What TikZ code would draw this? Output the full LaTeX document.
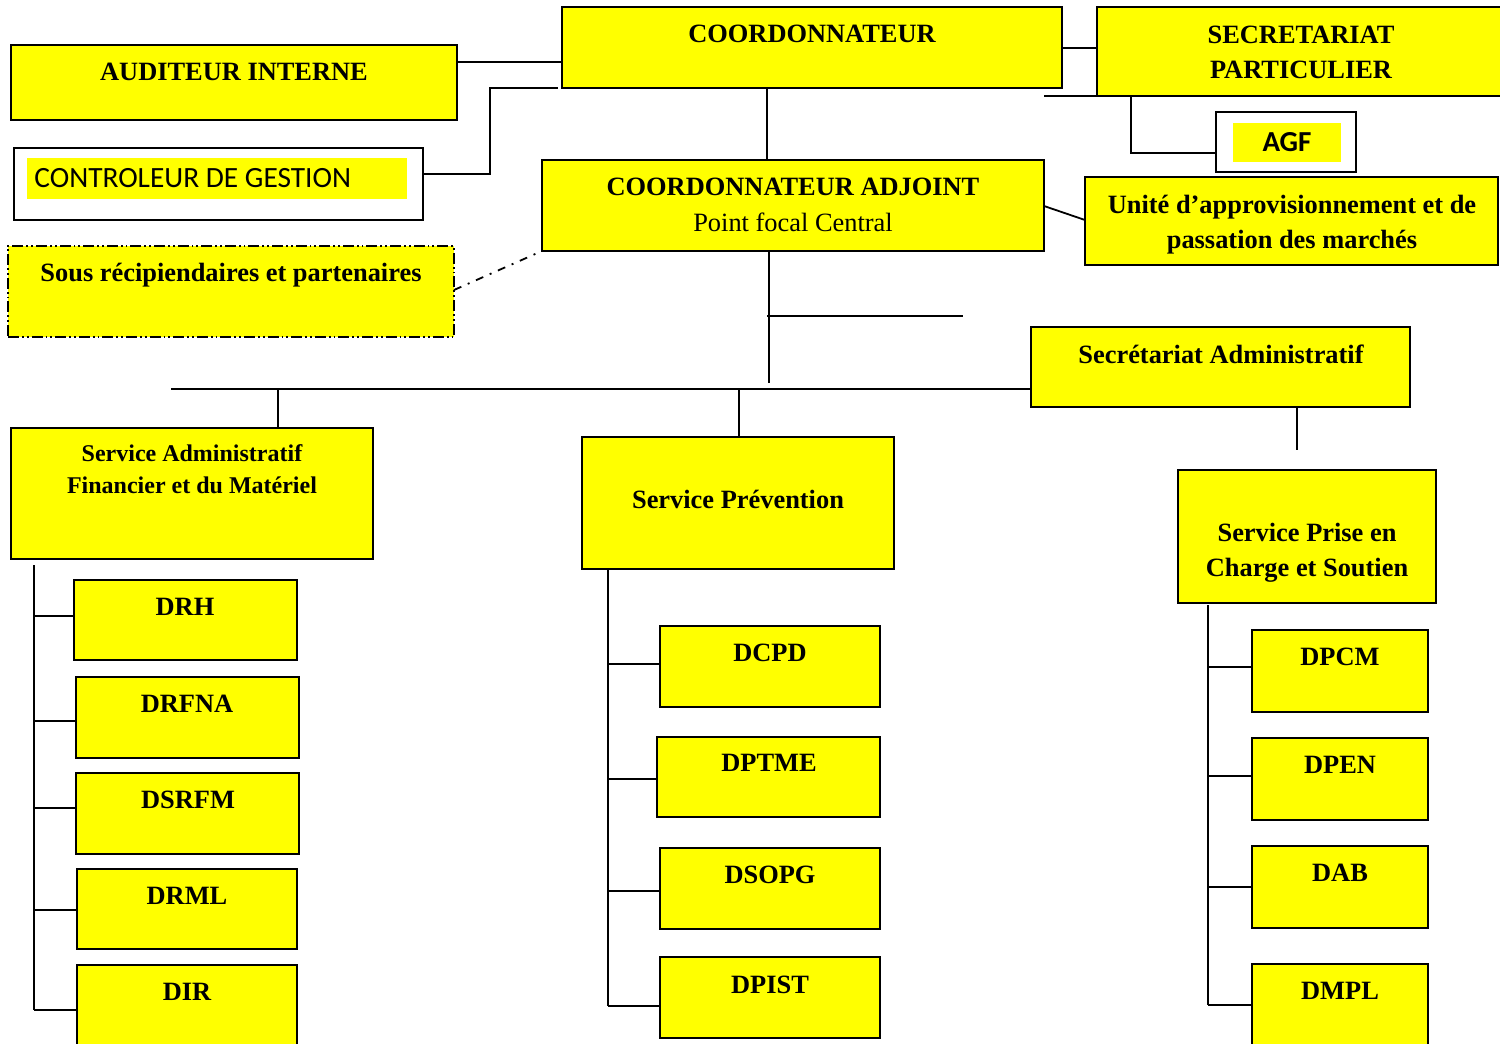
\documentclass[tikz,border=0pt]{standalone}
\usepackage{fontspec}
\setmainfont{Liberation Serif}
\newfontfamily\calib{Carlito}
\usetikzlibrary{fit}
\definecolor{boxyellow}{RGB}{255,255,0}
\tikzset{
  ybox/.style={draw, line width=0.9pt, fill=boxyellow, inner sep=0pt, outer sep=0pt},
  wbox/.style={draw, line width=0.9pt, fill=white, inner sep=0pt, outer sep=0pt},
  hbox/.style={fill=boxyellow, inner sep=0pt, outer sep=0pt},
  ddbox/.style={draw, line width=0.9pt, fill=boxyellow, inner sep=0pt, outer sep=0pt,
    dash pattern=on 5.5pt off 1.5pt on 0.9pt off 1.5pt on 0.9pt off 1.5pt},
  txt/.style={font=\bfseries\fontsize{13.2}{17.5}\selectfont, align=center, inner sep=0pt, text depth=0pt},
  stxt/.style={font=\bfseries\fontsize{12}{16}\selectfont, align=center, inner sep=0pt, text depth=0pt},
  ln/.style={line width=0.9pt},
  dotln/.style={line width=0.9pt, dash pattern=on 4pt off 3.5pt on 1pt off 3.5pt},
}
\newcommand\mkbox[6]{\node[#6, fit={(#2,#3) (#4,#5)}] (#1) {};}
\begin{document}
\begin{tikzpicture}[x=0.5pt,y=-0.5pt]
\clip (0,0) rectangle (1500,1044);
\fill[white] (0,0) rectangle (1500,1044);

% boxes
\mkbox{aud}{11}{45}{457}{120}{ybox}
\mkbox{ctrl}{14}{148}{423}{220}{wbox}
\mkbox{ctrlh}{27}{158}{407}{199}{hbox}
\mkbox{sous}{8}{246}{454}{337}{ddbox}
\mkbox{coord}{562}{7}{1062}{88}{ybox}
\mkbox{sec}{1097}{7}{1530}{96}{ybox}
\mkbox{agf}{1216}{112}{1356}{172}{wbox}
\mkbox{agfh}{1233}{123}{1341}{162}{hbox}
\mkbox{adj}{542}{160}{1044}{251}{ybox}
\mkbox{uni}{1085}{177}{1498}{265}{ybox}
\mkbox{sadm}{1031}{327}{1410}{407}{ybox}
\mkbox{saf}{11}{428}{373}{559}{ybox}
\mkbox{prev}{582}{437}{894}{569}{ybox}
\mkbox{pcs}{1178}{470}{1436}{603}{ybox}
\mkbox{drh}{74}{580}{297}{660}{ybox}
\mkbox{drfna}{76}{677}{299}{758}{ybox}
\mkbox{dsrfm}{76}{773}{299}{854}{ybox}
\mkbox{drml}{77}{869}{297}{949}{ybox}
\mkbox{dir}{77}{965}{297}{1070}{ybox}
\mkbox{dcpd}{660}{626}{880}{707}{ybox}
\mkbox{dptme}{657}{737}{880}{817}{ybox}
\mkbox{dsopg}{660}{848}{880}{929}{ybox}
\mkbox{dpist}{660}{957}{880}{1038}{ybox}
\mkbox{dpcm}{1252}{630}{1428}{712}{ybox}
\mkbox{dpen}{1252}{738}{1428}{820}{ybox}
\mkbox{dab}{1252}{846}{1428}{928}{ybox}
\mkbox{dmpl}{1252}{964}{1428}{1070}{ybox}

% texts
\node[txt] (aud-t) at (234,72) {AUDITEUR INTERNE};
\node[inner sep=0pt, anchor=west, text depth=0pt, font=\calib\fontsize{14.7}{17}\selectfont] (ctrl-t) at (34,178) {CONTROLEUR DE GESTION};
\node[txt] (sous-t) at (231,272) {Sous récipiendaires et partenaires};
\node[txt] (coord-t) at (812,34) {COORDONNATEUR};
\node[txt] (sec-t) at (1301,52) {SECRETARIAT\\PARTICULIER};
\node[inner sep=0pt, font=\calib\bfseries\fontsize{14.5}{17}\selectfont, text depth=0pt] (agf-t) at (1287,142) {AGF};
\node[txt] (adj-t) at (793,187) {COORDONNATEUR ADJOINT};
\node[txt, font=\fontsize{13.2}{17.5}\selectfont] (adj-t2) at (793,222) {Point focal Central};
\node[txt] (uni-t) at (1292,222) {Unité d’approvisionnement et de\\passation des marchés};
\node[txt] (sadm-t) at (1221,354) {Secrétariat Administratif};
\node[stxt] (saf-t) at (192,469) {Service Administratif\\Financier et du Matériel};
\node[txt] (prev-t) at (738,499) {Service Prévention};
\node[txt] (pcs-t) at (1307,550) {Service Prise en\\Charge et Soutien};
\node[txt] (drh-t) at (185,607) {DRH};
\node[txt] (drfna-t) at (187,704) {DRFNA};
\node[txt] (dsrfm-t) at (188,800) {DSRFM};
\node[txt] (drml-t) at (187,896) {DRML};
\node[txt] (dir-t) at (187,992) {DIR};
\node[txt] (dcpd-t) at (770,653) {DCPD};
\node[txt] (dptme-t) at (769,763) {DPTME};
\node[txt] (dsopg-t) at (770,875) {DSOPG};
\node[txt] (dpist-t) at (770,985) {DPIST};
\node[txt] (dpcm-t) at (1340,657) {DPCM};
\node[txt] (dpen-t) at (1340,765) {DPEN};
\node[txt] (dab-t) at (1340,873) {DAB};
\node[txt] (dmpl-t) at (1340,991) {DMPL};

% free ends
\coordinate (ctrlend) at (558,88);
\coordinate (secstub) at (1044,96);
\coordinate (adjstem) at (769,383);
\coordinate (adjside) at (963,316);
\coordinate (mainleft) at (171,389);
\coordinate (sadmstem) at (1297,450);

% connectors
\draw[ln] (aud.east |- 0,62) -- (coord.west |- 0,62);
\draw[ln] (ctrl.east |- 0,174) -| (490,88) -- (ctrlend);
\draw[ln] (coord.east |- 0,48) -- (sec.west |- 0,48);
\draw[ln] (secstub) -- (sec.south west);
\draw[ln] (1131,96) |- (agf.west |- 0,153);
\draw[ln] (coord.south -| 767,0) -- (adj.north -| 767,0);
\draw[ln] (adj.east |- 0,206) -- (uni.west |- 0,220);
\draw[dotln] (sous.east |- 0,290) -- (adj.south west);
\draw[ln] (adj.south -| 769,0) -- (adjstem);
\draw[ln] (767,316) -- (adjside);
\draw[ln] (mainleft) -- (sadm.west |- 0,389);
\draw[ln] (278,389) -- (saf.north -| 278,0);
\draw[ln] (739,389) -- (prev.north -| 739,0);
\draw[ln] (sadm.south -| 1297,0) -- (sadmstem);

% SAF tree
\draw[ln] (34,565) -- (34,1010);
\draw[ln] (34,616) -- (drh.west |- 0,616);
\draw[ln] (34,721) -- (drfna.west |- 0,721);
\draw[ln] (34,808) -- (dsrfm.west |- 0,808);
\draw[ln] (34,910) -- (drml.west |- 0,910);
\draw[ln] (34,1010) -- (dir.west |- 0,1010);
% Prevention tree
\draw[ln] (prev.south -| 608,0) -- (608,1006);
\draw[ln] (608,664) -- (dcpd.west |- 0,664);
\draw[ln] (608,779) -- (dptme.west |- 0,779);
\draw[ln] (608,891) -- (dsopg.west |- 0,891);
\draw[ln] (608,1006) -- (dpist.west |- 0,1006);
% PCS tree
\draw[ln] (1208,605) -- (1208,1005);
\draw[ln] (1208,667) -- (dpcm.west |- 0,667);
\draw[ln] (1208,776) -- (dpen.west |- 0,776);
\draw[ln] (1208,887) -- (dab.west |- 0,887);
\draw[ln] (1208,1005) -- (dmpl.west |- 0,1005);
\end{tikzpicture}
\end{document}
